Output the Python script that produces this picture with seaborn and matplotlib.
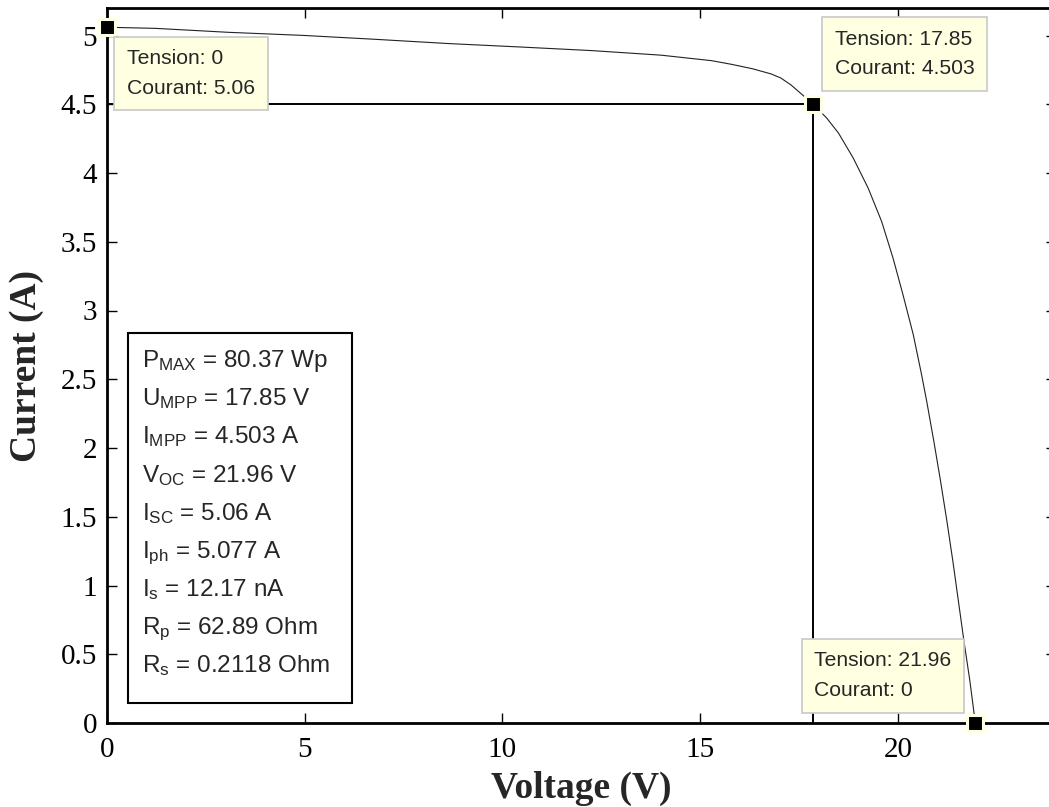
import matplotlib
matplotlib.use("Agg")
import matplotlib.pyplot as plt
import seaborn as sns
import pandas as pd

# courbe I-V (tension en V, courant en A)
voltage = [0.0, 0.3, 1.22, 3.08, 4.94, 6.80, 8.66, 10.41, 12.27, 14.01, 15.29,
           15.8, 16.34, 16.8, 17.04, 17.3, 17.62, 17.85, 18.2, 18.5, 18.87,
           19.25, 19.59, 19.88, 20.13, 20.39, 20.60, 20.73, 20.91, 21.08, 21.24,
           21.39, 21.53, 21.67, 21.82, 21.96]
current = [5.06, 5.058, 5.052, 5.023, 5.001, 4.972, 4.941, 4.917, 4.890, 4.857,
           4.817, 4.79, 4.757, 4.72, 4.691, 4.64, 4.56, 4.503, 4.40, 4.29, 4.11,
           3.89, 3.648, 3.38, 3.115, 2.825, 2.534, 2.34, 2.05, 1.76, 1.47,
           1.18, 0.89, 0.60, 0.31, 0.0]

# points marqués (data tips)
tip_v = [0, 17.85, 21.96]
tip_i = [5.06, 4.503, 0]
tip_labels = ["Tension: 0\nCourant: 5.06",
              "Tension: 17.85\nCourant: 4.503",
              "Tension: 21.96\nCourant: 0"]

v_mpp, i_mpp = 17.85, 4.503

param_lines = [r"P$_{\mathrm{MAX}}$ = 80.37 Wp",
               r"U$_{\mathrm{MPP}}$ = 17.85 V",
               r"I$_{\mathrm{MPP}}$ = 4.503 A",
               r"V$_{\mathrm{OC}}$ = 21.96 V",
               r"I$_{\mathrm{SC}}$ = 5.06 A",
               r"I$_{\mathrm{ph}}$ = 5.077 A",
               r"I$_{\mathrm{s}}$ = 12.17 nA",
               r"R$_{\mathrm{p}}$ = 62.89 Ohm",
               r"R$_{\mathrm{s}}$ = 0.2118 Ohm"]

x_ticks = [0, 5, 10, 15, 20]
y_ticks = [0, 0.5, 1, 1.5, 2, 2.5, 3, 3.5, 4, 4.5, 5]

sns.set_theme(style="ticks")
plt.rcParams["font.family"] = ["Liberation Serif"]
plt.rcParams["mathtext.fontset"] = "custom"
plt.rcParams["mathtext.rm"] = "Liberation Sans"
plt.rcParams["mathtext.it"] = "Liberation Sans:italic"

W, H = 1049, 807
fig = plt.figure(figsize=(W / 100, H / 100), dpi=100)
# axe un peu plus large que la figure (bord droit coupé comme l'original)
ax_l, ax_r, ax_t, ax_b = 107, 1056, 8, 723
ax = fig.add_axes([ax_l / W, (H - ax_b) / H, (ax_r - ax_l) / W, (ax_b - ax_t) / H])
ax_w, ax_h = ax_r - ax_l, ax_b - ax_t

df = pd.DataFrame({"V": voltage, "I": current})
sns.lineplot(data=df, x="V", y="I", ax=ax, color="#222222", linewidth=0.8,
             estimator=None, sort=False)

ax.hlines(i_mpp, 0, v_mpp, color="black", linewidth=1.4)
ax.vlines(v_mpp, 0, i_mpp, color="black", linewidth=1.4)

tips = pd.DataFrame({"V": tip_v, "I": tip_i})
sns.scatterplot(data=tips, x="V", y="I", ax=ax, marker="s", s=120,
                color="black", edgecolor="#FFFFE1", linewidth=2.2,
                zorder=5, clip_on=False)

# boîtes des data tips
tip_box = dict(boxstyle="square,pad=0.6", facecolor="#FFFFE1",
               edgecolor="#C8C8C8", linewidth=1.2)
offsets = [(20, -22, "left", "top"), (22, 74, "left", "top"),
           (-24, 23, "right", "bottom")]
for v, i, lab, (dx, dy, ha, va) in zip(tip_v, tip_i, tip_labels, offsets):
    ax.annotate(lab, xy=(v, i), xytext=(dx, dy), textcoords="offset pixels",
                ha=ha, va=va, multialignment="left", fontsize=15.2,
                family="Liberation Sans", linespacing=1.7, bbox=tip_box,
                zorder=6)

# encadré des paramètres
box_l, box_t, box_r, box_b = 128, 333, 352, 703
ax.add_patch(plt.Rectangle(((box_l - ax_l) / ax_w, (ax_b - box_b) / ax_h),
                           (box_r - box_l) / ax_w, (box_b - box_t) / ax_h,
                           transform=ax.transAxes, facecolor="white",
                           edgecolor="black", linewidth=1.5, zorder=4))
for k, line in enumerate(param_lines):
    y_px = 367 + k * 38.2
    ax.text((142 - ax_l) / ax_w, (ax_b - y_px) / ax_h, line,
            transform=ax.transAxes, ha="left", va="baseline",
            fontsize=17.5, family="Liberation Sans", zorder=5)

ax.set_xlim(0, 24)
ax.set_ylim(0, 5.2)
ax.set_xticks(x_ticks)
ax.set_yticks(y_ticks)
ax.set_yticklabels([f"{t:g}" for t in y_ticks])
ax.tick_params(direction="in", length=7, width=1, top=True, right=True,
               labelsize=21, colors="black")
ax.tick_params(axis="x", pad=10)
ax.tick_params(axis="y", pad=7)
for s in ax.spines.values():
    s.set_linewidth(2)
    s.set_color("black")

ax.set_xlabel("Voltage (V)", fontsize=27, fontweight="bold", labelpad=6)
ax.set_ylabel("Current (A)", fontsize=27, fontweight="bold", labelpad=12)

fig.savefig("out.png", dpi=100)
